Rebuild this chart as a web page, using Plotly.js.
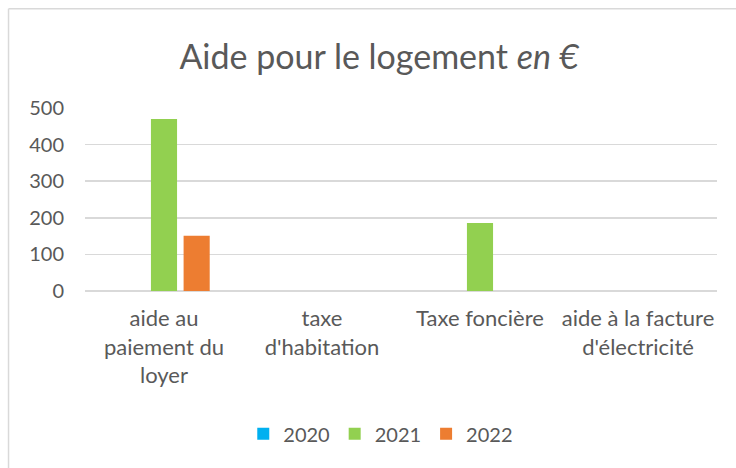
<!DOCTYPE html>
<html>
<head>
<meta charset="utf-8">
<script src="https://cdn.plot.ly/plotly-3.0.1.min.js"></script>
<style>
  html, body { margin: 0; padding: 0; background: #fff; }
  #chart { width: 736px; height: 468px; }
</style>
</head>
<body>
<div id="chart"></div>
<script>
// catégories (axe x) et séries
const categories = [
  "aide au<br>paiement du<br>loyer",
  "taxe<br>d'habitation",
  "Taxe foncière",
  "aide à la facture<br>d'électricité"
];
const years = ["2020", "2021", "2022"];
const values2020 = [0, 0, 0, 0];
const values2021 = [470, 0, 186, 0];
const values2022 = [151, 0, 0, 0];
const yTicks = [0, 100, 200, 300, 400, 500];

const colors = ["#00B0F0", "#92D050", "#ED7D31"];
const series = [values2020, values2021, values2022];

const FONT = "Lato, 'Open Sans', sans-serif";

const traces = series.map((vals, i) => ({
  type: 'bar',
  name: years[i],
  x: categories,
  y: vals,
  marker: { color: colors[i] },
  hoverinfo: 'x+y+name'
}));

// cadre du graphique : seulement bords gauche et haut visibles
const frameLine = { color: '#d9d9d9', width: 1.5 };

const layout = {
  width: 736,
  height: 468,
  margin: { l: 85, r: 19, t: 108, b: 177 },
  paper_bgcolor: '#fff',
  plot_bgcolor: '#fff',
  font: { family: FONT, color: '#595959', size: 20 },
  title: {
    text: "Aide pour le logement <i>en €</i>",
    font: { family: FONT, size: 34, color: '#595959' },
    x: 0.515, xanchor: 'center',
    y: 0.878, yanchor: 'middle'
  },
  barmode: 'group',
  bargap: 0.38,
  bargroupgap: 0.2,
  xaxis: {
    type: 'category',
    showgrid: false,
    showline: false,
    zeroline: false,
    ticks: '',
    tickangle: 0,
    ticklabelstandoff: 12,
    tickfont: { family: FONT, size: 22, color: '#595959' }
  },
  yaxis: {
    range: [0, 500],
    tickvals: yTicks,
    ticks: '',
    showline: false,
    gridcolor: '#d9d9d9',
    gridwidth: 1.5,
    zeroline: true,
    zerolinecolor: '#d9d9d9',
    zerolinewidth: 1.5,
    ticklabelstandoff: 20,
    tickfont: { family: FONT, size: 20, color: '#595959' }
  },
  showlegend: true,
  legend: {
    orientation: 'h',
    x: 0.468, xanchor: 'center',
    y: -0.78, yanchor: 'middle',
    font: { family: FONT, size: 20, color: '#595959' },
    itemwidth: 30,
    traceorder: 'normal'
  },
  shapes: [
    { type: 'line', xref: 'paper', yref: 'paper', x0: -0.121, x1: -0.121, y0: -1.2, y1: 1.543, line: frameLine, layer: 'below' },
    { type: 'line', xref: 'paper', yref: 'paper', x0: -0.121, x1: 1.2, y0: 1.543, y1: 1.543, line: frameLine, layer: 'below' }
  ]
};

Plotly.newPlot('chart', traces, layout, { displayModeBar: false, staticPlot: true });
</script>
</body>
</html>
